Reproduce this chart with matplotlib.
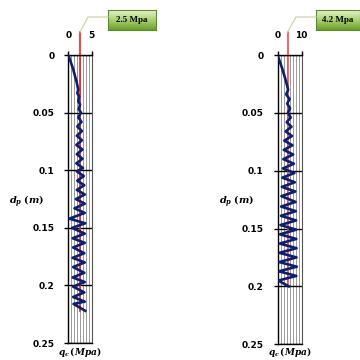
import numpy as np
import matplotlib
matplotlib.use("Agg")
import matplotlib.pyplot as plt
from matplotlib.colors import LinearSegmentedColormap

plt.rcParams['mathtext.fontset'] = 'custom'
plt.rcParams['mathtext.it'] = 'DejaVu Serif:italic:bold'
plt.rcParams['mathtext.rm'] = 'DejaVu Serif:bold'

# ---- data ----
left_q = [0, 0.5, 1.0, 1.4, 1.8, 2.1, 1.9, 2.3, 2.1, 2.5, 2.2, 2.7, 2.1, 2.8, 1.9, 2.9, 1.8, 2.9,
          1.7, 3.0, 1.8, 3.0, 1.7, 3.1, 1.8, 3.3, 1.9, 3.4, 1.8, 3.5, 1.6, 3.5, 1.3, 3.5, 0.2, 3.6,
          0.8, 3.5, 0.9, 3.5, 1.0, 3.4, 0.9, 3.5, 1.0, 3.4, 0.9, 3.5, 1.0, 3.4, 1.0, 3.5, 1.1, 3.6]
left_d = [0, 0.006, 0.012, 0.018, 0.024, 0.030, 0.033, 0.036, 0.040, 0.043, 0.047, 0.050, 0.054,
          0.058, 0.062, 0.066, 0.070, 0.074, 0.078, 0.082, 0.086, 0.090, 0.094, 0.098, 0.101, 0.105,
          0.109, 0.113, 0.117, 0.121, 0.125, 0.129, 0.133, 0.137, 0.142, 0.146, 0.150, 0.155, 0.159,
          0.163, 0.167, 0.172, 0.176, 0.180, 0.184, 0.189, 0.193, 0.197, 0.201, 0.206, 0.210, 0.214,
          0.216, 0.222]
right_q = [0, 1, 2, 3, 3.8, 4.4, 3.6, 5.0, 4.0, 5.2, 4.3, 5.5, 3.8, 5.8, 3.4, 6.0, 2.8, 6.2, 2.6,
           6.5, 2.4, 6.8, 2.2, 7.0, 2.0, 7.2, 1.8, 7.4, 1.6, 7.5, 1.5, 7.6, 1.4, 7.7, 1.2, 7.8, 1.0,
           7.8, 0.9, 7.9, 0.8, 7.9, 0.7, 8.0, 0.6, 7.8, 0.3, 4.7]
right_d = [0, 0.006, 0.012, 0.019, 0.025, 0.030, 0.034, 0.038, 0.042, 0.046, 0.050, 0.054, 0.058,
           0.062, 0.066, 0.070, 0.074, 0.078, 0.082, 0.086, 0.090, 0.094, 0.098, 0.102, 0.106, 0.110,
           0.114, 0.118, 0.122, 0.127, 0.131, 0.135, 0.139, 0.143, 0.147, 0.151, 0.155, 0.159, 0.163,
           0.167, 0.171, 0.175, 0.179, 0.183, 0.187, 0.191, 0.195, 0.200]
panels = [
    dict(q=left_q, d=left_d, xmax=5, ref=2.5, label="2.5 Mpa", rect=[0.190, 0.047, 0.065, 0.800],
         box=[108, 10, 48, 20], refcolor="#ff1a1a"),
    dict(q=right_q, d=right_d, xmax=10, ref=4.2, label="4.2 Mpa", rect=[0.771, 0.044, 0.0667, 0.803],
         box=[316, 10, 44, 20], refcolor="#ff4a4a"),
]
yticks = [0, 0.05, 0.1, 0.15, 0.2, 0.25]
ytick_labels = ["0", "0.05", "0.1", "0.15", "0.2", "0.25"]

fig = plt.figure(figsize=(3.6, 3.6), dpi=100)
W = H = 360.0
cmap = LinearSegmentedColormap.from_list("g", ["#e4f2cf", "#a9d26f", "#6c9f2c"])

for p in panels:
    ax = fig.add_axes(p["rect"])
    xmax = p["xmax"]
    ax.set_xlim(0, xmax)
    ax.set_ylim(0.25, 0)
    for xv in np.linspace(0, xmax, 9)[1:-1]:
        ax.axvline(xv, color="#8a8a8a", lw=0.6, zorder=1)
    for yv in yticks:
        ax.axhline(yv, color="black", lw=1.0, zorder=1)
    ax.xaxis.tick_top()
    ax.set_xticks([0, xmax])
    ax.set_xticklabels(["0", str(xmax)], fontsize=6.5, fontweight="bold")
    ax.set_yticks(yticks)
    ax.set_yticklabels(ytick_labels, fontsize=6.5, fontweight="bold")
    ax.tick_params(axis="x", length=3, width=1, pad=8)
    ax.tick_params(axis="y", length=3, width=1, pad=7)
    for s in ax.spines.values():
        s.set_linewidth(1.0)
        s.set_color("black")
    ax.spines["right"].set_color("#555555")
    ax.spines["right"].set_linewidth(0.8)
    dmax = max(p["d"])
    ax.plot([p["ref"], p["ref"]], [-0.02, dmax], color=p["refcolor"], lw=1.2, zorder=2, clip_on=False)
    ax.plot(p["q"], p["d"], color="#0a1f6e", lw=1.9, zorder=3, solid_joinstyle="round")
    cx = p["rect"][0] + p["rect"][2] / 2
    fig.text(cx, 0.002, r"$q_c\,(Mpa)$", ha="center", va="bottom", fontsize=6.5)
    xl = p["rect"][0] - 0.115
    fig.text(xl, 1 - 202 / H, r"$d_p\;(m)$", ha="center", va="center", fontsize=7)
    # callout box
    bx, by, bw, bh = p["box"]
    bax = fig.add_axes([bx / W, 1 - (by + bh) / H, bw / W, bh / H])
    grad = np.linspace(0, 1, 50).reshape(-1, 1)
    bax.imshow(grad, aspect="auto", cmap=cmap, extent=[0, 1, 0, 1])
    bax.set_xticks([]); bax.set_yticks([])
    for s in bax.spines.values():
        s.set_color("#5f8a2a"); s.set_linewidth(0.8)
    bax.text(0.5, 0.5, p["label"], ha="center", va="center", fontsize=6.5,
             family="Liberation Serif", fontweight="bold")
    xr = p["rect"][0] * W + p["ref"] / xmax * p["rect"][2] * W
    lx = [bx, bx - 20, xr]
    ly = [by + 7, by + 7, 32]
    fig.add_artist(plt.Line2D([v / W for v in lx], [1 - v / H for v in ly], color="#c9d9a6", lw=0.9))

fig.savefig("out.png", dpi=100)
